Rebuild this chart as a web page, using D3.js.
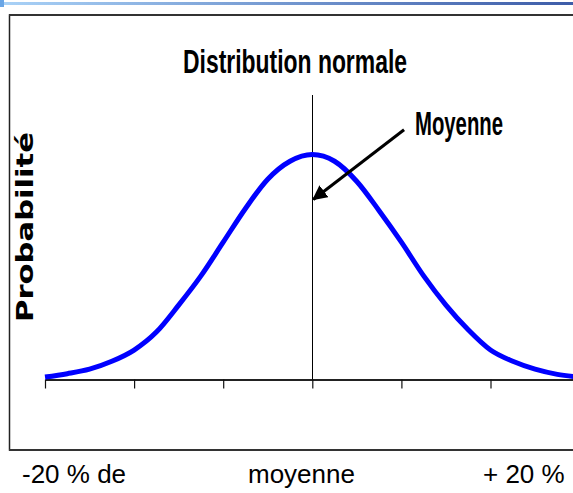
<!DOCTYPE html>
<html><head><meta charset="utf-8">
<script src="https://cdn.jsdelivr.net/npm/d3@7"></script>
<style>html,body{margin:0;padding:0;background:#fff;overflow:hidden}</style>
</head><body>
<svg id="c" width="573" height="493"></svg>
<script>
// Data (x in standard deviations from the mean, y relative probability)
const sigmaX = [-3,-2.75,-2.5,-2.25,-2,-1.75,-1.5,-1.25,-1,-0.75,-0.5,-0.25,0,0.25,0.5,0.75,1,1.25,1.5,1.75,2,2.25,2.5,2.75,3];
const probY  = [0.01,0.025,0.045,0.08,0.13,0.21,0.33,0.46,0.61,0.76,0.89,0.97,1.0,0.97,0.88,0.75,0.61,0.46,0.33,0.22,0.13,0.08,0.045,0.022,0.01];
const tickValues = [-3,-2,-1,0,1,2,3];
const bottomLabels = ["-20 % de", "moyenne", "+ 20 %"];
const titleText = "Distribution normale";
const yLabel = "Probabilité";
const annotText = "Moyenne";

const svg = d3.select("#c");

// top decorative gradient strip
const defs = svg.append("defs");
const g = defs.append("linearGradient").attr("id","topg").attr("x1","0").attr("x2","1");
g.append("stop").attr("offset","0").attr("stop-color","#a9d2f7");
g.append("stop").attr("offset","1").attr("stop-color","#3d5ca8");
svg.append("rect").attr("x",0).attr("y",2).attr("width",573).attr("height",3).attr("fill","url(#topg)");
svg.append("rect").attr("x",0).attr("y",0).attr("width",4).attr("height",7).attr("fill","#6aa6e6");

// chart box
svg.append("rect").attr("x",9.5).attr("y",15).attr("width",600).attr("height",435)
  .attr("fill","#fff").attr("stroke","#222").attr("stroke-width",1.5);
svg.append("line").attr("x1",9).attr("x2",573).attr("y1",15).attr("y2",15).attr("stroke","#333").attr("stroke-width",2);
svg.append("line").attr("x1",9).attr("x2",573).attr("y1",450).attr("y2",450).attr("stroke","#333").attr("stroke-width",2);

const x = d3.scaleLinear().domain([-3,3]).range([45, 45 + 6*89.1]);
const y = d3.scaleLinear().domain([0,1]).range([379.3, 154.5]);

// axis
const axis = d3.axisBottom(x).tickValues(tickValues).tickSize(9).tickSizeOuter(0).tickFormat("");
const ag = svg.append("g").attr("transform","translate(0,379.5)").call(axis);
ag.select(".domain").attr("stroke","#222").attr("stroke-width",1.8);
ag.selectAll(".tick line").attr("stroke","#111").attr("stroke-width",1.2);

// mean vertical line
svg.append("line").attr("x1",Math.round(x(0))+0.5).attr("x2",Math.round(x(0))+0.5)
  .attr("y1",95).attr("y2",y(0)).attr("stroke","#000").attr("stroke-width",1);

// curve
const pts = sigmaX.map((s,i)=>[s, probY[i]]);
svg.append("path").datum(pts)
  .attr("d", d3.line().x(d=>x(d[0])).y(d=>y(d[1])).curve(d3.curveMonotoneX))
  .attr("fill","none").attr("stroke","#0000ff").attr("stroke-width",5).attr("stroke-linejoin","round");

// title
svg.append("text").attr("x",295).attr("y",72.7).attr("text-anchor","middle")
  .attr("font-family","'Liberation Sans Narrow','Liberation Sans',Arial,sans-serif")
  .attr("font-weight","bold").attr("font-size",34)
  .attr("textLength",224).attr("lengthAdjust","spacingAndGlyphs")
  .text(titleText);

// annotation arrow
defs.append("marker").attr("id","ah").attr("viewBox","0 0 10 10").attr("refX",9).attr("refY",5)
  .attr("markerWidth",5).attr("markerHeight",5).attr("orient","auto").attr("markerUnits","strokeWidth")
  .append("path").attr("d","M0,0 L10,5 L0,10 Z").attr("fill","#000");
const tip = {s:0.0, p:0.8}, tail = {s:1.03, p:1.11};
svg.append("line").attr("x1",x(tail.s)).attr("y1",y(tail.p)).attr("x2",x(tip.s)+1).attr("y2",y(tip.p))
  .attr("stroke","#000").attr("stroke-width",3).attr("marker-end","url(#ah)");

svg.append("text").attr("x",415).attr("y",135).attr("text-anchor","start")
  .attr("font-family","'Liberation Sans Narrow','Liberation Sans',Arial,sans-serif")
  .attr("font-weight","bold").attr("font-size",34)
  .attr("textLength",88).attr("lengthAdjust","spacingAndGlyphs")
  .text(annotText);

// y label
svg.append("text").attr("transform","translate(33,227) rotate(-90)").attr("text-anchor","middle")
  .attr("font-family","'DejaVu Sans',Arial,sans-serif").attr("font-weight","bold").attr("font-size",23)
  .attr("textLength",190).attr("lengthAdjust","spacingAndGlyphs")
  .text(yLabel);

// bottom labels
const bx = [22, 248, 483];
svg.selectAll("text.bl").data(bottomLabels).enter().append("text").attr("class","bl")
  .attr("x",(d,i)=>bx[i]).attr("y",483)
  .attr("font-family","'Liberation Sans',Arial,sans-serif").attr("font-size",26).attr("fill","#000")
  .text(d=>d);
</script>
</body></html>
